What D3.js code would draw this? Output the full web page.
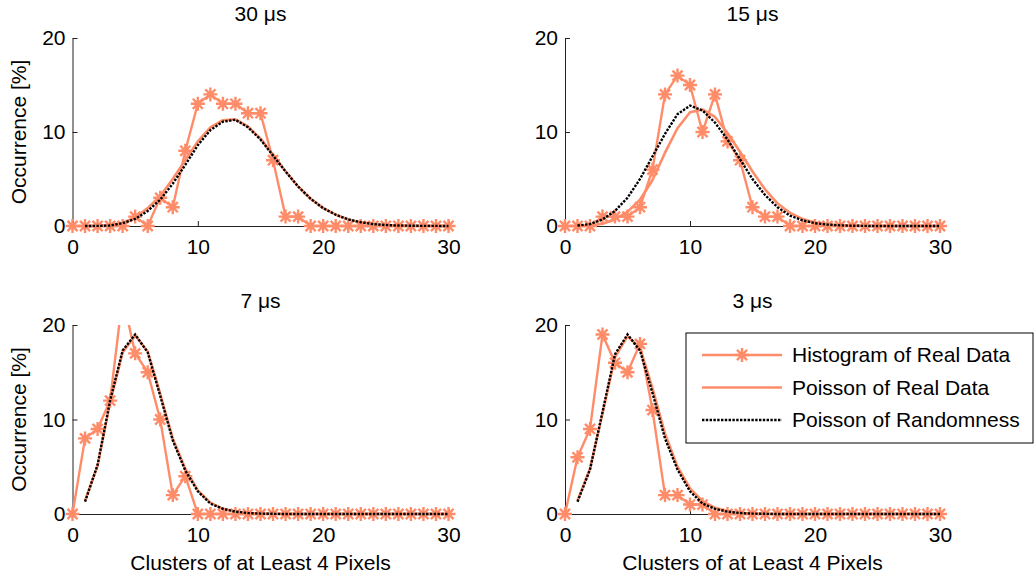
<!DOCTYPE html>
<html>
<head>
<meta charset="utf-8">
<script src="https://cdn.jsdelivr.net/npm/d3@7"></script>
<style>
  body { margin: 0; background: #fff; }
  svg text { font-family: "Liberation Sans", Arial, Helvetica, sans-serif; fill: #000; }
</style>
</head>
<body>
<svg id="chart" width="1035" height="579"></svg>
<script>
// Cluster counts on the x axis (clusters of at least 4 pixels per frame)
const clusters = [0,1,2,3,4,5,6,7,8,9,10,11,12,13,14,15,16,17,18,19,20,21,22,23,24,25,26,27,28,29,30];
const xTicks = [0, 10, 20, 30];
const yTicks = [0, 10, 20];
const panelTitles = ["30 \u03bcs", "15 \u03bcs", "7 \u03bcs", "3 \u03bcs"];
const xLabel = "Clusters of at Least 4 Pixels";
const yLabel = "Occurrence [%]";
const legendLabels = ["Histogram of Real Data", "Poisson of Real Data", "Poisson of Randomness"];

// Histogram of measured data [%], one value per cluster count
const hist30 = [0,0,0,0,0,1,0,3,2,8,13,14,13,13,12,12,7,1,1,0,0,0,0,0,0,0,0,0,0,0,0];
const hist15 = [0,0,0,1,1,1,2,6,14,16,15,10,14,9,7,2,1,1,0,0,0,0,0,0,0,0,0,0,0,0,0];
const hist7  = [0,8,9,12,23,17,15,10,2,4,0,0,0,0,0,0,0,0,0,0,0,0,0,0,0,0,0,0,0,0,0];
const hist3  = [0,6,9,19,16,15,18,11,2,2,1,1,0,0,0,0,0,0,0,0,0,0,0,0,0,0,0,0,0,0,0];

// Poisson fit of the measured data [%] (not defined at 0)
const real30 = [null,0,0.02,0.1,0.35,0.9,1.9,3.2,5.0,7.0,9.0,10.5,11.25,11.35,10.6,9.3,7.6,5.8,4.2,2.9,1.9,1.2,0.7,0.4,0.2,0.1,0.05,0.02,0.01,0,0];
const real15 = [null,0,0.05,0.25,0.7,1.5,2.8,4.9,7.8,10.4,12.1,12.4,11.6,9.9,7.9,5.8,3.9,2.4,1.4,0.75,0.38,0.18,0.08,0.04,0.02,0.01,0,0,0,0,0];
const real7  = [null,1.4,5.1,11.8,17.1,18.9,17.2,12.7,8.0,4.8,2.5,1.2,0.55,0.25,0.1,0.04,0.02,0,0,0,0,0,0,0,0,0,0,0,0,0,0];
const real3  = [null,1.4,4.8,10.6,16.6,18.8,17.6,13.3,8.5,5.0,2.7,1.35,0.65,0.3,0.12,0.05,0.02,0,0,0,0,0,0,0,0,0,0,0,0,0,0];

// Poisson distribution expected from random hits [%]
const rand30 = [null,0,0.01,0.05,0.3,0.75,1.6,2.8,4.5,6.5,8.6,10.2,11.1,11.3,10.5,9.2,7.5,5.8,4.2,2.9,1.9,1.2,0.7,0.4,0.2,0.1,0.05,0.03,0.01,0.01,0];
const rand15 = [null,0.05,0.2,0.7,1.6,3.0,5.0,7.4,9.8,11.9,12.8,12.3,11.0,9.2,7.1,5.0,3.3,2.0,1.1,0.6,0.3,0.15,0.07,0.03,0.01,0,0,0,0,0,0];
const rand7  = [null,1.3,5.2,12.0,17.3,19.0,17.1,12.5,7.8,4.6,2.4,1.1,0.55,0.25,0.1,0.04,0.02,0,0,0,0,0,0,0,0,0,0,0,0,0,0];
const rand3  = [null,1.3,4.7,10.8,16.9,19.0,17.3,12.8,8.0,4.7,2.4,1.1,0.55,0.25,0.1,0.04,0.02,0,0,0,0,0,0,0,0,0,0,0,0,0,0];

const histSeries = [hist30, hist15, hist7, hist3];
const realSeries = [real30, real15, real7, real3];
const randSeries = [rand30, rand15, rand7, rand3];

// Plot frames (pixel extents of each axes box), in a 2x2 grid
const frames = [
  { left: 72.5, right: 448.5, bottom: 226, top: 38,  row: 0, col: 0 },
  { left: 565,  right: 940,   bottom: 226, top: 38,  row: 0, col: 1 },
  { left: 72.5, right: 448.5, bottom: 514, top: 325, row: 1, col: 0 },
  { left: 565,  right: 940,   bottom: 514, top: 325, row: 1, col: 1 }
];

const ORANGE = "#ff8c69";
const FONT = 21;
const DOTS = "2.4,1.4";
const svg = d3.select("#chart");

// Asterisk marker: horizontal, vertical and two diagonal strokes
function asterisk(r) {
  const d = r * 0.72;
  return `M${-r},0H${r}M0,${-r}V${r}M${-d},${-d}L${d},${d}M${-d},${d}L${d},${-d}`;
}

frames.forEach((f, i) => {
  const x = d3.scaleLinear().domain([0, 30]).range([f.left, f.right]);
  const y = d3.scaleLinear().domain([0, 20]).range([f.bottom, f.top]);
  const g = svg.append("g");

  const clipId = "clip" + i;
  svg.append("clipPath").attr("id", clipId)
    .append("rect")
    .attr("x", f.left - 10).attr("y", f.top)
    .attr("width", f.right - f.left + 20).attr("height", f.bottom - f.top + 10);

  // axes
  const yAxis = d3.axisLeft(y).tickValues(yTicks).tickSizeInner(-5).tickSizeOuter(0).tickPadding(7);
  const xAxis = d3.axisBottom(x).tickValues(xTicks).tickSizeInner(-5).tickSizeOuter(0).tickPadding(13);

  const gy = g.append("g").attr("transform", `translate(${f.left},0)`).call(yAxis);
  const gx = g.append("g").attr("transform", `translate(0,${f.bottom})`).call(xAxis);
  [gx, gy].forEach(a => {
    a.selectAll("path.domain").attr("stroke", "#222").attr("stroke-width", 1);
    a.selectAll(".tick line").attr("stroke", "#222");
    a.selectAll(".tick text").attr("font-size", FONT).attr("fill", "#000")
      .style("font-family", '"Liberation Sans", Arial, sans-serif');
  });

  // title
  g.append("text")
    .attr("x", (f.left + f.right) / 2).attr("y", f.top - 17)
    .attr("text-anchor", "middle").attr("font-size", FONT)
    .text(panelTitles[i]);

  if (f.col === 0) {
    g.append("text")
      .attr("transform", `translate(26,${(f.top + f.bottom) / 2}) rotate(-90)`)
      .attr("text-anchor", "middle").attr("font-size", FONT)
      .text(yLabel);
  }
  if (f.row === 1) {
    g.append("text")
      .attr("x", (f.left + f.right) / 2).attr("y", f.bottom + 56)
      .attr("text-anchor", "middle").attr("font-size", FONT)
      .text(xLabel);
  }

  const line = d3.line()
    .defined(d => d[1] !== null)
    .x(d => x(d[0])).y(d => y(d[1]));

  const hist = clusters.map((c, k) => [c, histSeries[i][k]]);
  const real = clusters.map((c, k) => [c, realSeries[i][k]]);
  const rand = clusters.map((c, k) => [c, randSeries[i][k]]);

  const plot = g.append("g");
  plot.append("path").datum(hist).attr("d", line)
    .attr("clip-path", `url(#${clipId})`)
    .attr("fill", "none").attr("stroke", ORANGE).attr("stroke-width", 2.4)
    .attr("stroke-linejoin", "round");

  plot.selectAll("path.mk").data(hist.filter(d => d[1] <= 20)).join("path")
    .attr("class", "mk")
    .attr("transform", d => `translate(${x(d[0])},${y(d[1])})`)
    .attr("d", asterisk(7))
    .attr("fill", "none").attr("stroke", ORANGE).attr("stroke-width", 2.4);

  plot.append("path").datum(real).attr("d", line)
    .attr("clip-path", `url(#${clipId})`)
    .attr("fill", "none").attr("stroke", ORANGE).attr("stroke-width", 2.6)
    .attr("stroke-linejoin", "round");

  plot.append("path").datum(rand).attr("d", line)
    .attr("clip-path", `url(#${clipId})`)
    .attr("fill", "none").attr("stroke", "#000").attr("stroke-width", 2.4)
    .attr("stroke-dasharray", DOTS);
});

// legend, in the last panel
const lg = svg.append("g").attr("transform", "translate(686,333)");
lg.append("rect").attr("x", 0).attr("y", 0).attr("width", 347).attr("height", 110)
  .attr("fill", "#fff").attr("stroke", "#000").attr("stroke-width", 1);
const rowY = d3.scalePoint().domain(legendLabels).range([22, 87]);
legendLabels.forEach((lab, j) => {
  const ry = rowY(lab);
  const sample = lg.append("g");
  if (j === 2) {
    sample.append("line").attr("x1", 16).attr("x2", 96).attr("y1", ry).attr("y2", ry)
      .attr("stroke", "#000").attr("stroke-width", 2.4).attr("stroke-dasharray", DOTS);
  } else {
    sample.append("line").attr("x1", 16).attr("x2", 96).attr("y1", ry).attr("y2", ry)
      .attr("stroke", ORANGE).attr("stroke-width", 2.6);
  }
  if (j === 0) {
    sample.append("path").attr("transform", `translate(56,${ry})`).attr("d", asterisk(7))
      .attr("fill", "none").attr("stroke", ORANGE).attr("stroke-width", 2.4);
  }
  lg.append("text").attr("x", 106).attr("y", ry).attr("dy", "0.35em")
    .attr("font-size", FONT).text(lab);
});
</script>
</body>
</html>
